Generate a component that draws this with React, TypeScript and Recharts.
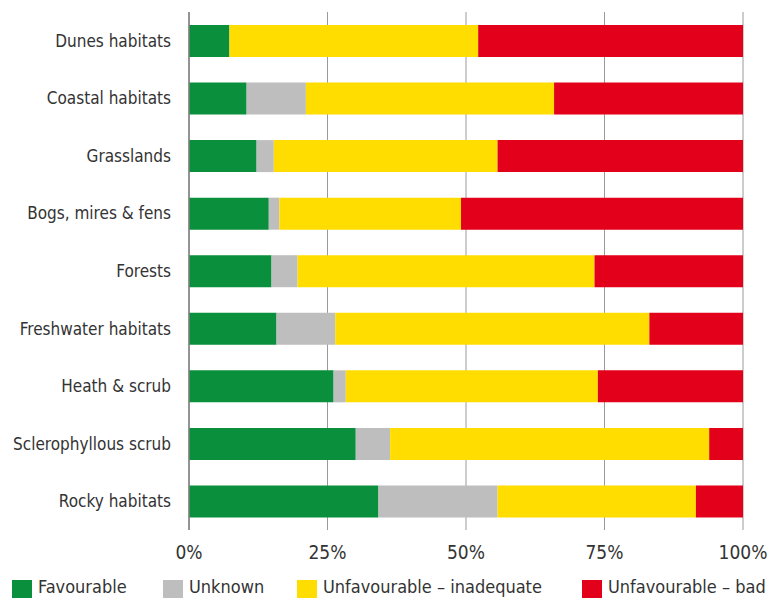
import { BarChart, Bar, XAxis, YAxis, CartesianGrid, Legend } from 'recharts'

const habitats = [
  'Dunes habitats',
  'Coastal habitats',
  'Grasslands',
  'Bogs, mires & fens',
  'Forests',
  'Freshwater habitats',
  'Heath & scrub',
  'Sclerophyllous scrub',
  'Rocky habitats',
]

const favourable = [7.3, 10.4, 12.2, 14.4, 14.9, 15.8, 26.1, 30.1, 34.2]
const unknown = [0, 10.7, 3.1, 1.9, 4.7, 10.6, 2.2, 6.2, 21.5]
const inadequate = [44.9, 44.8, 40.4, 32.8, 53.6, 56.7, 45.5, 57.6, 35.8]
const bad = [47.8, 34.1, 44.3, 50.9, 26.8, 16.9, 26.2, 6.1, 8.5]

const xTicks = [0, 25, 50, 75, 100]

const series = [
  { key: 'favourable', label: 'Favourable', color: '#0a8f3c', slot: 151 },
  { key: 'unknown', label: 'Unknown', color: '#bebebe', slot: 134 },
  { key: 'inadequate', label: 'Unfavourable – inadequate', color: '#ffdd00', slot: 285 },
  { key: 'bad', label: 'Unfavourable – bad', color: '#e2001a', slot: 190 },
]

const FONT = "'DejaVu Sans Condensed', 'DejaVu Sans', sans-serif"

const data = habitats.map((name, i) => ({
  name,
  favourable: favourable[i],
  unknown: unknown[i],
  inadequate: inadequate[i],
  bad: bad[i],
}))

// legend is laid out by hand so the swatches sit where the original has them
function LegendRow() {
  return (
    <div
      style={{
        display: 'flex',
        alignItems: 'flex-start',
        paddingLeft: 12,
        fontFamily: FONT,
        fontSize: 18,
        lineHeight: '20px',
        color: '#333',
        whiteSpace: 'nowrap',
      }}
    >
      {series.map((s) => (
        <div key={s.key} style={{ display: 'flex', alignItems: 'flex-start', width: s.slot, flexShrink: 0 }}>
          <span style={{ display: 'inline-block', width: 20, height: 18, marginTop: 3, background: s.color, marginRight: 6 }} />
          <span>{s.label}</span>
        </div>
      ))}
    </div>
  )
}

export default function App() {
  return (
    <div style={{ position: 'absolute', left: 0, top: 0, width: 778, height: 598, background: '#fff', overflow: 'hidden' }}>
      <BarChart
        width={778}
        height={598}
        data={data}
        layout="vertical"
        margin={{ top: 12, right: 35, left: 0, bottom: 28 }}
        barCategoryGap={0}
      >
        <CartesianGrid horizontal={false} stroke="#9a9a9a" />
        <XAxis
          type="number"
          domain={[0, 100]}
          ticks={xTicks}
          tickFormatter={(v) => `${v}%`}
          axisLine={false}
          tickLine={false}
          height={40}
          tickMargin={10}
          tick={{ fontSize: 19, fill: '#333', fontFamily: FONT }}
        />
        <YAxis
          type="category"
          dataKey="name"
          width={189}
          axisLine={{ stroke: '#808080', strokeWidth: 1.5 }}
          tickLine={false}
          tickMargin={12}
          tick={{ fontSize: 17, fill: '#333', fontFamily: FONT }}
        />
        <Legend
          layout="horizontal"
          verticalAlign="middle"
          align="center"
          wrapperStyle={{ top: 577, left: 0, width: 778 }}
          content={() => <LegendRow />}
        />
        {series.map((s) => (
          <Bar
            key={s.key}
            dataKey={s.key}
            name={s.label}
            stackId="a"
            fill={s.color}
            barSize={32}
            isAnimationActive={false}
          />
        ))}
      </BarChart>
    </div>
  )
}
